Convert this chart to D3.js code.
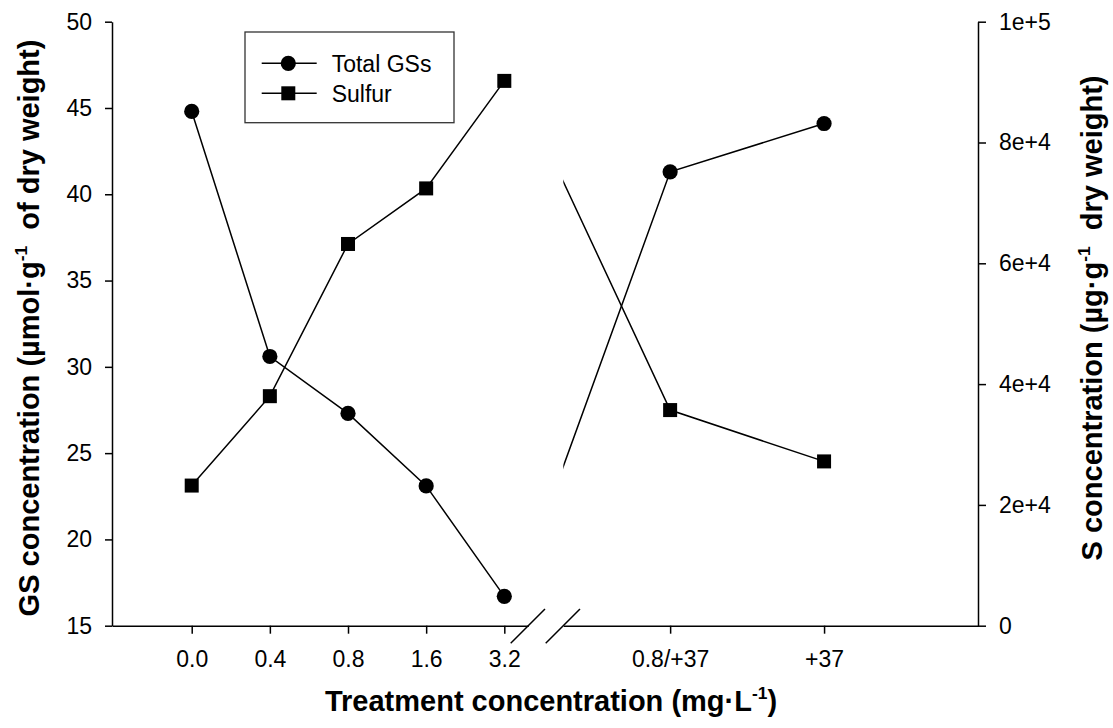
<!DOCTYPE html>
<html>
<head>
<meta charset="utf-8">
<script src="https://cdn.jsdelivr.net/npm/d3@7/dist/d3.min.js"></script>
<style>
  html, body { margin: 0; padding: 0; background: #fff; }
  svg { display: block; }
  text { font-family: "Liberation Sans", Arial, Helvetica, sans-serif; fill: #000; }
</style>
</head>
<body>
<svg id="chart" width="1113" height="728"></svg>
<script>
// ---------- data ----------
const categories = ["0.0", "0.4", "0.8", "1.6", "3.2", "0.8/+37", "+37"];
const catIndex   = [0, 1, 2, 3, 4, 6, 7];           // position index on the broken x axis
const totalGS    = [44.8, 30.6, 27.3, 23.1, 16.7, 41.3, 44.1];          // µmol·g-1
const sulfur     = [23200, 38000, 63200, 72400, 90200, 35700, 27200];   // µg·g-1
const leftTicks  = [15, 20, 25, 30, 35, 40, 45, 50];
const rightTicks = [0, 20000, 40000, 60000, 80000, 100000];
const rightTickLabels = ["0", "2e+4", "4e+4", "6e+4", "8e+4", "1e+5"];
const seriesNames = ["Total GSs", "Sulfur"];

// ---------- layout ----------
const svg = d3.select("#chart");
const plotTop = 21.7, plotBottom = 625.7, leftX = 112, rightX = 978;
const breakL = 528.3, breakR = 563.3;

// broken x axis: two linear segments
const xL = d3.scaleLinear().domain([-1.02, 4.307]).range([leftX, breakL]);
const xR = d3.scaleLinear().domain([5.306, 8.0]).range([breakR, rightX]);
const yL = d3.scaleLinear().domain([15, 50]).range([plotBottom, plotTop]);
const yR = d3.scaleLinear().domain([0, 100000]).range([plotBottom, plotTop]);

const tickFont = 23, titleFont = 29, lw = 1.5;

function styleAxis(g) {
  g.selectAll("path.domain").attr("stroke", "#000").attr("stroke-width", lw);
  g.selectAll(".tick line").attr("stroke", "#000").attr("stroke-width", lw);
  g.selectAll(".tick text").attr("font-size", tickFont)
    .attr("font-family", '"Liberation Sans", Arial, sans-serif').attr("fill", "#000");
}

const leftIdx = catIndex.filter(i => i <= 4);
const rightIdx = catIndex.filter(i => i >= 6);
const labelOf = i => categories[catIndex.indexOf(i)];

svg.append("g").attr("transform", `translate(0,${plotBottom})`)
  .call(d3.axisBottom(xL).tickValues(leftIdx).tickFormat(labelOf).tickSizeInner(8).tickSizeOuter(0).tickPadding(17))
  .call(styleAxis);
svg.append("g").attr("transform", `translate(0,${plotBottom})`)
  .call(d3.axisBottom(xR).tickValues(rightIdx).tickFormat(labelOf).tickSizeInner(8).tickSizeOuter(0).tickPadding(17))
  .call(styleAxis);

svg.append("g").attr("transform", `translate(${leftX},0)`)
  .call(d3.axisLeft(yL).tickValues(leftTicks).tickFormat(d3.format("d")).tickSizeInner(7).tickSizeOuter(0).tickPadding(13))
  .call(styleAxis);
svg.append("g").attr("transform", `translate(${rightX},0)`)
  .call(d3.axisRight(yR).tickValues(rightTicks).tickFormat((d, i) => rightTickLabels[i]).tickSizeInner(8).tickSizeOuter(0).tickPadding(13))
  .call(styleAxis);

// axis break marks
const brk = svg.append("g").attr("stroke", "#000").attr("stroke-width", lw);
[breakL, breakR].forEach(bx => {
  brk.append("line")
    .attr("x1", bx - 17.6).attr("y1", plotBottom + 17.6)
    .attr("x2", bx + 16.7).attr("y2", plotBottom - 16.7);
});

svg.append("clipPath").attr("id", "clipR").append("rect")
  .attr("x", breakR).attr("y", 0).attr("width", rightX - breakR).attr("height", 728);

// ---------- series ----------
const rows = catIndex.map((ix, k) => ({ ix, gs: totalGS[k], s: sulfur[k] }));
const leftRows = rows.filter(r => r.ix <= 4);
const rightRows = [{ ix: 5, gs: totalGS[4], s: sulfur[4] }].concat(rows.filter(r => r.ix >= 6));
const rightRowsPts = rows.filter(r => r.ix >= 6);

const lineGS_L = d3.line().x(d => xL(d.ix)).y(d => yL(d.gs));
const lineS_L  = d3.line().x(d => xL(d.ix)).y(d => yR(d.s));
const lineGS_R = d3.line().x(d => xR(d.ix)).y(d => yL(d.gs));
const lineS_R  = d3.line().x(d => xR(d.ix)).y(d => yR(d.s));

const lines = svg.append("g").attr("fill", "none").attr("stroke", "#000").attr("stroke-width", lw);
lines.append("path").attr("d", lineGS_L(leftRows));
lines.append("path").attr("d", lineS_L(leftRows));
lines.append("path").attr("d", lineGS_R(rightRows)).attr("clip-path", "url(#clipR)");
lines.append("path").attr("d", lineS_R(rightRows)).attr("clip-path", "url(#clipR)");

const R = 7.6, SQ = 14;
const marks = svg.append("g").attr("fill", "#000");
marks.selectAll("circle.l").data(leftRows).join("circle")
  .attr("cx", d => xL(d.ix)).attr("cy", d => yL(d.gs)).attr("r", R);
marks.selectAll("circle.r").data(rightRowsPts).join("circle")
  .attr("cx", d => xR(d.ix)).attr("cy", d => yL(d.gs)).attr("r", R);
marks.selectAll("rect.l").data(leftRows).join("rect")
  .attr("x", d => xL(d.ix) - SQ / 2).attr("y", d => yR(d.s) - SQ / 2).attr("width", SQ).attr("height", SQ);
marks.selectAll("rect.r").data(rightRowsPts).join("rect")
  .attr("x", d => xR(d.ix) - SQ / 2).attr("y", d => yR(d.s) - SQ / 2).attr("width", SQ).attr("height", SQ);

// ---------- legend ----------
const lg = svg.append("g");
lg.append("rect").attr("x", 245).attr("y", 32).attr("width", 209).attr("height", 90.7)
  .attr("fill", "#fff").attr("stroke", "#333").attr("stroke-width", 1.3);
[63.3, 93.3].forEach((ly, i) => {
  lg.append("line").attr("x1", 261.7).attr("x2", 316.7).attr("y1", ly).attr("y2", ly)
    .attr("stroke", "#000").attr("stroke-width", lw);
  if (i === 0) lg.append("circle").attr("cx", 288.3).attr("cy", ly).attr("r", R).attr("fill", "#000");
  else lg.append("rect").attr("x", 288.3 - SQ / 2).attr("y", ly - SQ / 2).attr("width", SQ).attr("height", SQ).attr("fill", "#000");
  lg.append("text").attr("x", 331.7).attr("y", ly + 8.2).attr("font-size", tickFont).text(seriesNames[i]);
});

// ---------- axis titles ----------
function titleWithSup(g, before, sup, after) {
  const t = g.append("text").attr("font-size", titleFont).attr("font-weight", "bold").attr("text-anchor", "middle");
  t.append("tspan").text(before);
  t.append("tspan").attr("font-size", titleFont * 0.6).attr("dy", -titleFont * 0.42).text(sup);
  t.append("tspan").attr("dy", titleFont * 0.42).text(after);
  return t;
}
titleWithSup(svg.append("g").attr("transform", "translate(551,711)"),
  "Treatment concentration (mg·L", "-1", ")");
titleWithSup(svg.append("g").attr("transform", "translate(39,328) rotate(-90)"),
  "GS concentration (µmol·g", "-1", "\u00A0 of dry weight)");
titleWithSup(svg.append("g").attr("transform", "translate(1102,318) rotate(-90)"),
  "S concentration (µg·g", "-1", "\u00A0 dry weight)");
</script>
</body>
</html>
